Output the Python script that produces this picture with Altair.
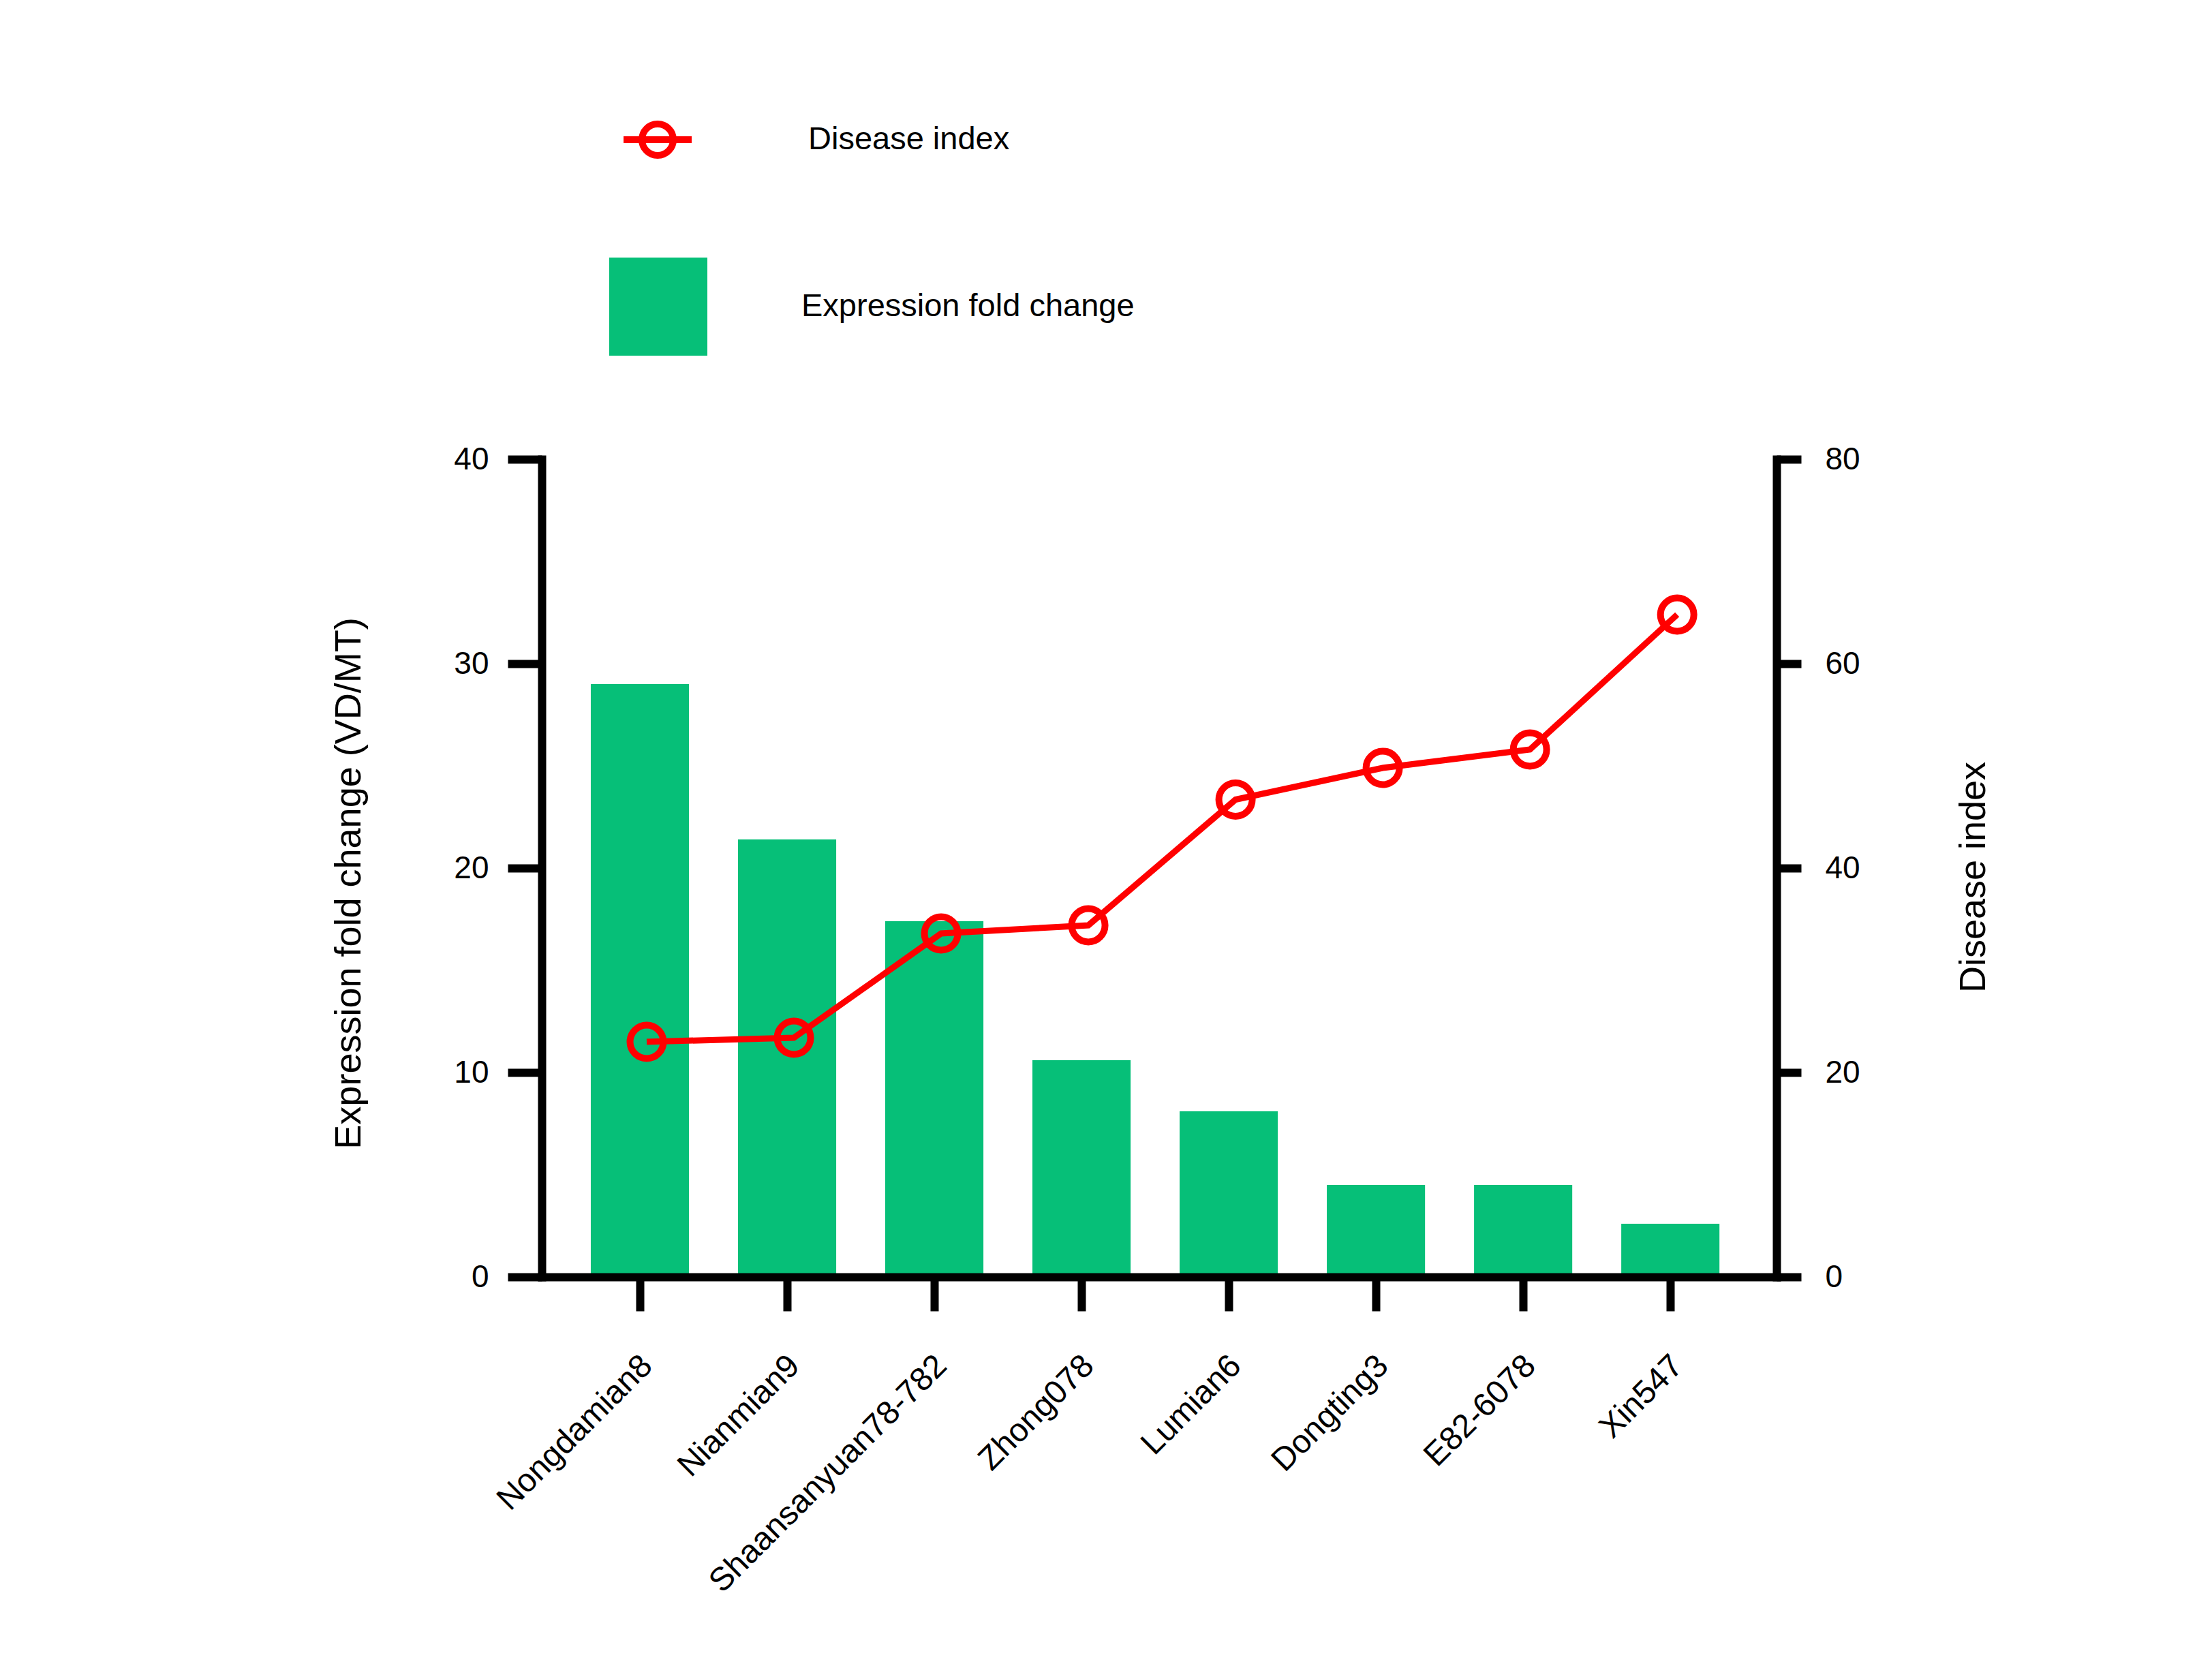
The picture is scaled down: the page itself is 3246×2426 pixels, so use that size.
import altair as alt
import pandas as pd

cultivars = ["Nongdamian8", "Nianmian9", "Shaansanyuan78-782", "Zhong078",
             "Lumian6", "Dongting3", "E82-6078", "Xin547"]
expression = [29.0, 21.4, 17.4, 10.6, 8.1, 4.5, 4.5, 2.6]
disease_index = [23.0, 23.4, 33.6, 34.4, 46.7, 49.8, 51.6, 64.8]
left_ticks = [0, 10, 20, 30, 40]
right_ticks = [0, 20, 40, 60, 80]
bar_series = ["Expression fold change"]
line_series = ["Disease index"]

df = pd.DataFrame({
    "cultivar": cultivars,
    "expr": expression,
    "di": disease_index,
    "s1": bar_series * len(cultivars),
    "s2": line_series * len(cultivars),
})

FONT = "Liberation Sans"
GREEN = "#06BF78"
RED = "#FF0000"

x_enc = alt.X(
    "cultivar:N", sort=cultivars,
    scale=alt.Scale(paddingInner=0.333, paddingOuter=0.3605, align=0.462),
    axis=alt.Axis(title=None, labelAngle=315, labelAlign="right", labelBaseline="top",
                  labelFontSize=48, labelPadding=56, labelOffset=-6, labelFont=FONT,
                  tickSize=50, tickWidth=12, domainWidth=12, domainCap="square",
                  tickColor="black", domainColor="black", labelColor="black",
                  labelLimit=1000, labelOverlap=False, grid=False, zindex=1),
)

left_axis = alt.Axis(
    orient="left", values=left_ticks, grid=False, title="Expression fold change (VD/MT)",
    titleFontSize=54, titleFontWeight="normal", titleFont=FONT, titleColor="black",
    titlePadding=126, titleY=622,
    labelFontSize=46, labelFont=FONT, labelColor="black", labelPadding=28,
    tickSize=50, tickWidth=12, tickColor="black",
    domainWidth=12, domainColor="black", domainCap="square", zindex=1,
)

right_axis = alt.Axis(
    orient="right", values=right_ticks, grid=False, title="Disease index",
    titleFontSize=54, titleFontWeight="normal", titleFont=FONT, titleColor="black",
    titleAngle=270, titleBaseline="top", titlePadding=140, titleY=613,
    labelFontSize=46, labelFont=FONT, labelColor="black", labelPadding=35,
    tickSize=36, tickWidth=12, tickColor="black",
    domainWidth=12, domainColor="black", domainCap="square", zindex=1,
)

bar_legend = alt.Legend(
    title=None, orient="none", legendX=99, legendY=-296, padding=0,
    symbolType="square", symbolSize=20736, symbolStrokeWidth=0,
    labelFontSize=47, labelFont=FONT, labelColor="black", labelOffset=138, labelLimit=1000,
)

line_symbol = ("M-1,0L1,0M0.46,0A0.46,0.46 0 1,1 -0.46,0"
               "A0.46,0.46 0 1,1 0.46,0Z")
line_legend = alt.Legend(
    title=None, orient="none", legendX=115, legendY=-524, padding=0,
    symbolType=line_symbol, symbolSize=10000, symbolStrokeWidth=10,
    symbolFillColor="transparent",
    labelFontSize=47, labelFont=FONT, labelColor="black", labelOffset=166, labelLimit=1000,
)

base = alt.Chart(df)

bars = base.mark_bar().encode(
    x=x_enc,
    y=alt.Y("expr:Q", scale=alt.Scale(domain=[0, 40], nice=False), axis=left_axis),
    fill=alt.Fill("s1:N", scale=alt.Scale(domain=bar_series, range=[GREEN]), legend=bar_legend),
)

y_right = alt.Y("di:Q", scale=alt.Scale(domain=[0, 80], nice=False), axis=right_axis)
stroke_enc = alt.Stroke("s2:N", scale=alt.Scale(domain=line_series, range=[RED]), legend=line_legend)

line = base.mark_line(strokeWidth=9, xOffset=10).encode(
    x=x_enc, y=y_right, stroke=stroke_enc,
)
points = base.mark_point(shape="circle", filled=False, size=2400, strokeWidth=10,
                         opacity=1, xOffset=10).encode(
    x=x_enc, y=y_right, stroke=stroke_enc,
)

right_layer = alt.layer(line, points)

chart = alt.layer(bars, right_layer).resolve_scale(y="independent").properties(
    width=1812, height=1200,
    autosize=alt.AutoSizeParams(type="none"),
    padding={"left": 787, "top": 666, "right": 600, "bottom": 500},
    background="white",
    view=alt.ViewBackground(stroke=None),
).configure_view(stroke=None, strokeWidth=0).configure(font=FONT)

chart.save("out.html", embed_options={"renderer": "svg", "actions": False})
